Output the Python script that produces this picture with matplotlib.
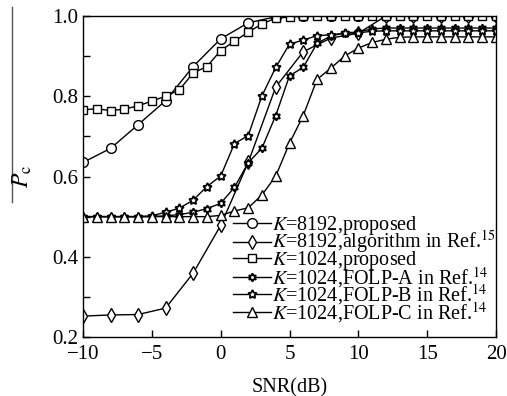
import matplotlib
matplotlib.use("Agg")
import matplotlib.pyplot as plt
from matplotlib.lines import Line2D

plt.rcParams['font.family'] = ['Liberation Serif', 'DejaVu Serif']
plt.rcParams['mathtext.fontset'] = 'stix'

# SNR axes
snr_even = [-10, -8, -6, -4, -2, 0, 2, 4, 6, 8, 10, 12, 14, 16, 18, 20]
snr_all = list(range(-10, 21))

pc_k8192_proposed = [0.635, 0.670, 0.729, 0.789, 0.874, 0.943, 0.983, 0.998,
                     1.0, 1.0, 1.0, 1.0, 1.0, 1.0, 1.0, 1.0]
pc_k8192_ref15 = [0.252, 0.255, 0.256, 0.272, 0.359, 0.478, 0.635, 0.823,
                  0.911, 0.945, 0.957, 1.0, 1.0, 1.0, 1.0, 1.0]
pc_k1024_proposed = [0.766, 0.769, 0.764, 0.768, 0.776, 0.788, 0.800, 0.816,
                     0.858, 0.874, 0.914, 0.937, 0.960, 0.980, 0.995, 0.997,
                     1.0, 1.0, 1.0, 1.0, 1.0, 1.0, 1.0, 1.0, 1.0, 1.0, 1.0,
                     1.0, 1.0, 1.0, 1.0]
pc_folp_a = [0.5, 0.5, 0.5, 0.5, 0.5, 0.5, 0.502, 0.505, 0.511, 0.520, 0.533,
             0.573, 0.634, 0.671, 0.752, 0.851, 0.872, 0.932, 0.950, 0.958,
             0.960, 0.968, 0.970, 0.970, 0.970, 0.970, 0.970, 0.970, 0.970,
             0.970, 0.970]
pc_folp_b = [0.5, 0.5, 0.5, 0.5, 0.5, 0.502, 0.511, 0.521, 0.541, 0.575, 0.601,
             0.682, 0.702, 0.801, 0.872, 0.930, 0.940, 0.951, 0.953, 0.957,
             0.958, 0.962, 0.963, 0.963, 0.963, 0.963, 0.963, 0.963, 0.963,
             0.963, 0.963]
pc_folp_c = [0.5, 0.5, 0.5, 0.5, 0.5, 0.5, 0.5, 0.5, 0.5, 0.5, 0.503, 0.514,
             0.522, 0.554, 0.601, 0.683, 0.752, 0.842, 0.870, 0.900, 0.920,
             0.934, 0.942, 0.947, 0.948, 0.948, 0.948, 0.948, 0.948, 0.948,
             0.948]

labels = [r'$K$=8192,proposed',
          r'$K$=8192,algorithm in Ref.$^{15}$',
          r'$K$=1024,proposed',
          r'$K$=1024,FOLP-A in Ref.$^{14}$',
          r'$K$=1024,FOLP-B in Ref.$^{14}$',
          r'$K$=1024,FOLP-C in Ref.$^{14}$']

fig = plt.figure(figsize=(5.07, 3.96), dpi=100)
ax = fig.add_axes([83/507, 1-337/396, (496-83)/507, (337-16)/396])

kw = dict(color='black', lw=1.0, mfc='white', mec='black')
ax.plot(snr_even, pc_k8192_proposed, marker='o', ms=7, mew=1.0, label=labels[0], **kw)
ax.plot(snr_even, pc_k8192_ref15, marker='d', ms=7, mew=1.0, label=labels[1], **kw)
ax.plot(snr_all, pc_k1024_proposed, marker='s', ms=6.3, mew=1.0, label=labels[2], **kw)
ax.plot(snr_all, pc_folp_a, marker=(6, 1, 0), ms=6, mew=1.3, label=labels[3], **kw)
ax.plot(snr_all, pc_folp_b, marker=(5, 1, 0), ms=6.5, mew=1.3, label=labels[4], **kw)
ax.plot(snr_all, pc_folp_c, marker='^', ms=7.5, mew=1.0, label=labels[5], **kw)

ax.set_xlim(-10, 20)
ax.set_ylim(0.2, 1.0)
ax.set_xticks([-10, -5, 0, 5, 10, 15, 20])
ax.set_xticklabels(['\u221210', '\u22125', '0', '5', '10', '15', '20'])
ax.set_yticks([0.2, 0.4, 0.6, 0.8, 1.0])
ax.set_yticklabels(['0.2', '0.4', '0.6', '0.8', '1.0'])
ax.set_yticks([0.3, 0.5, 0.7, 0.9], minor=True)
ax.tick_params(axis='both', which='both', direction='in', top=False, right=False,
               labelsize=15, length=5, width=1)
ax.tick_params(axis='x', pad=6)
for s in ax.spines.values():
    s.set_linewidth(1.0)

ax.set_xlabel('SNR(dB)', fontsize=14.5, labelpad=10)

fig.text(22/507, 1-176/396, r'$P_{\rm c}$', rotation=90, fontsize=17,
         ha='center', va='center')
fig.add_artist(Line2D([12/507, 12/507], [1-7/396, 1-202/396], color='#555555', lw=1.0,
                      transform=fig.transFigure))

leg = ax.legend(loc='lower left', bbox_to_anchor=((233-83)/413, (337-325)/321),
                frameon=False, fontsize=14.5, handlelength=1.9, handletextpad=0.05,
                labelspacing=-0.36, borderaxespad=0.0, borderpad=0.0)

fig.savefig('out.png', dpi=100)
